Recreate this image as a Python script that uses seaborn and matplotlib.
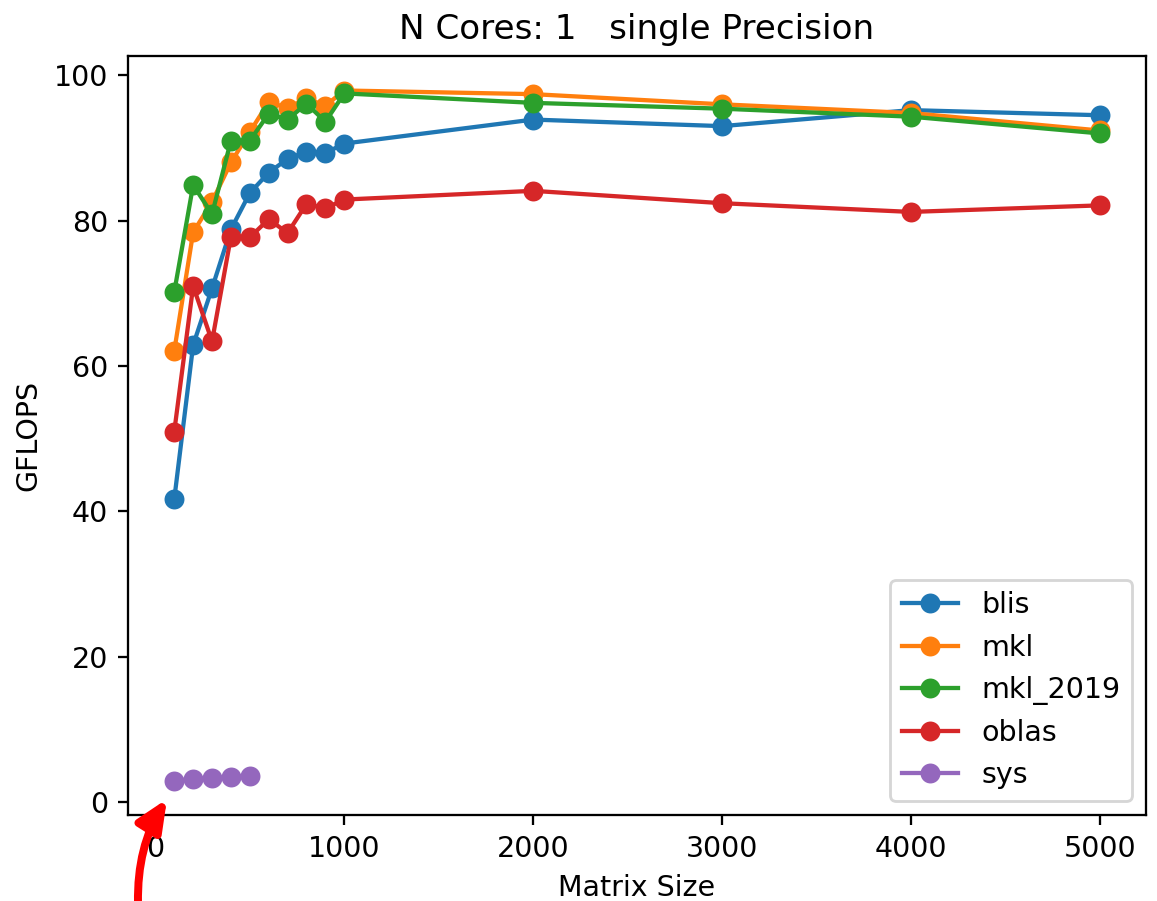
import matplotlib
matplotlib.use("Agg")
import matplotlib.pyplot as plt
from matplotlib.patches import FancyArrowPatch
import seaborn as sns
import pandas as pd

sizes = [100, 200, 300, 400, 500, 600, 700, 800, 900, 1000, 2000, 3000, 4000, 5000]
sys_sizes = [100, 200, 300, 400, 500]

blis = [41.7, 62.9, 70.7, 78.8, 83.8, 86.6, 88.5, 89.5, 89.3, 90.6, 93.9, 93.0, 95.2, 94.5]
mkl = [62.1, 78.4, 82.6, 88.0, 92.2, 96.3, 95.5, 96.8, 95.8, 97.9, 97.4, 96.0, 94.8, 92.4]
mkl_2019 = [70.2, 84.9, 80.9, 91.0, 91.0, 94.7, 93.9, 96.1, 93.6, 97.5, 96.2, 95.4, 94.3, 92.0]
oblas = [51.0, 71.0, 63.4, 77.8, 77.7, 80.2, 78.3, 82.3, 81.7, 82.9, 84.1, 82.4, 81.2, 82.1]
sys_vals = [3.0, 3.2, 3.3, 3.5, 3.6]

labels = ["blis", "mkl", "mkl_2019", "oblas", "sys"]
colors = ["#1f77b4", "#ff7f0e", "#2ca02c", "#d62728", "#9467bd"]

rows = []
for lab, vals in zip(labels[:4], [blis, mkl, mkl_2019, oblas]):
    for s, v in zip(sizes, vals):
        rows.append({"size": s, "gflops": v, "lib": lab})
for s, v in zip(sys_sizes, sys_vals):
    rows.append({"size": s, "gflops": v, "lib": "sys"})
df = pd.DataFrame(rows)

DPI = 205
W, H = 1157, 901
fig = plt.figure(figsize=(W / DPI, H / DPI), dpi=DPI)
ax = fig.add_axes([128 / W, 1 - 815 / H, (1146 - 128) / W, (815 - 56) / H])

for lab, col in zip(labels, colors):
    sub = df[df["lib"] == lab]
    sns.lineplot(data=sub, x="size", y="gflops", ax=ax, color=col, label=lab,
                 marker="o", markersize=7, markeredgewidth=0, linewidth=1.5)

ax.set_title("N Cores: 1   single Precision", fontsize=12)
ax.set_xlabel("Matrix Size")
ax.set_ylabel("GFLOPS")
ax.set_xticks([0, 1000, 2000, 3000, 4000, 5000])
ax.set_yticks([0, 20, 40, 60, 80, 100])
ax.legend(loc="lower right")

arrow = FancyArrowPatch((138 / W, 1 - 903 / H), (167 / W, 1 - 799 / H),
                        transform=fig.transFigure, connectionstyle="arc3,rad=-0.15",
                        arrowstyle="-|>,head_length=9,head_width=4", color="red",
                        linewidth=2.8, mutation_scale=1, shrinkA=0, shrinkB=0)
fig.patches.append(arrow)

fig.savefig("out.png", dpi=DPI)
